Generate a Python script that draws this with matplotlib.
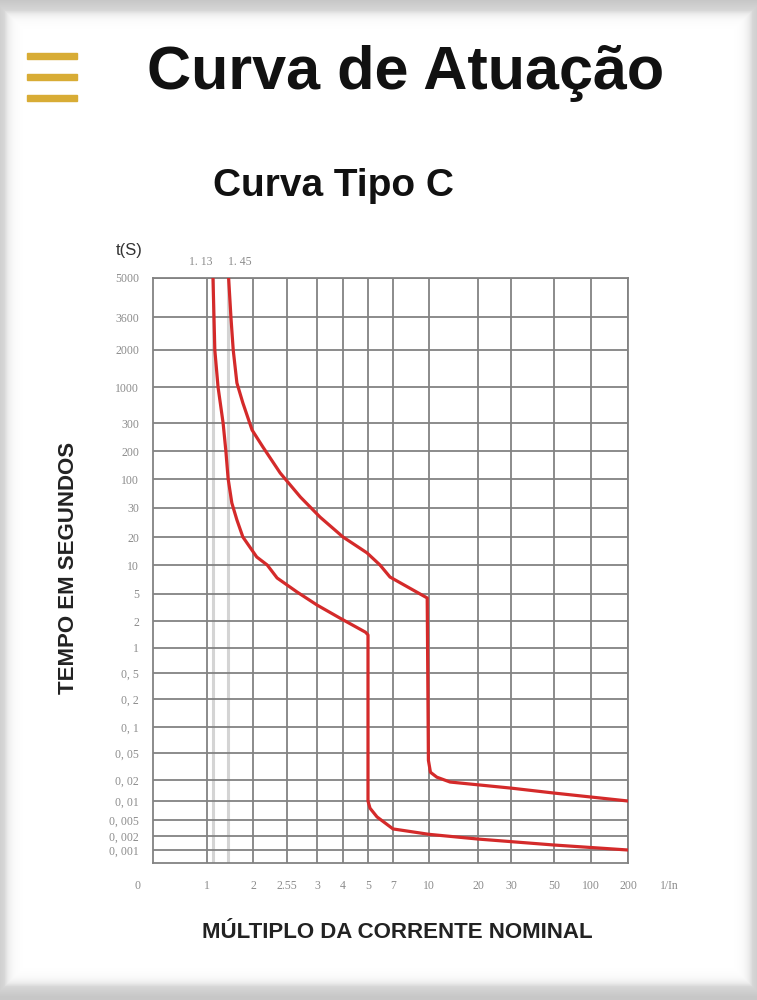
import numpy as np
import matplotlib
matplotlib.use('Agg')
import matplotlib.pyplot as plt
from matplotlib.transforms import blended_transform_factory

## chart values
x_ticks = [1, 2, 2.55, 3, 4, 5, 7, 10, 20, 30, 50, 100, 200]
x_labels = ['1', '2', '2.55', '3', '4', '5', '7', '10', '20', '30', '50', '100', '200']
y_ticks = [5000, 3600, 2000, 1000, 300, 200, 100, 30, 20, 10, 5, 2, 1,
           0.5, 0.2, 0.1, 0.05, 0.02, 0.01, 0.005, 0.002, 0.001]
y_labels = ['5000', '3600', '2000', '1000', '300', '200', '100', '30', '20', '10', '5', '2', '1',
            '0, 5', '0, 2', '0, 1', '0, 05', '0, 02', '0, 01', '0, 005', '0, 002', '0, 001']
marks = [1.13, 1.45]
mark_labels = ['1. 13', '1. 45']

# curva de nao-disparo (1.13 In)
curve_a_x = [1.13, 1.17, 1.24, 1.35, 1.41, 1.46, 1.54, 1.65, 1.78, 2.06, 2.23, 2.39, 2.70,
             3.0, 3.88, 4.9, 5.0, 5.0, 5.16, 5.72, 7.0, 10, 20, 50, 200]
curve_a_y = [5000, 2000, 1000, 300, 200, 100, 36.9, 25.4, 20, 12.2, 10, 7.33, 5.25,
             3.44, 2.21, 1.5, 1.4, 0.01, 0.0077, 0.0056, 0.003, 0.0022, 0.00172, 0.00128, 0.001]
# curva de disparo (1.45 In)
curve_b_x = [1.47, 1.52, 1.57, 1.65, 1.78, 1.98, 2.16, 2.44, 2.75, 3.12, 4.0, 4.96, 5.96,
             6.76, 9.85, 9.95, 10.3, 11.6, 14.3, 30, 50, 200]
curve_b_y = [5000, 3600, 2000, 1079, 586, 271, 212, 116, 47.4, 26.4, 20, 13.5, 10,
             7.5, 4.37, 0.039, 0.026, 0.022, 0.0187, 0.0153, 0.013, 0.01]

## layout: where each grid line sits on the printed sheet (pixels)
x_grid_px = [153, 207, 253, 287, 317, 343, 368, 393, 429, 478, 511, 554, 591, 628]
y_grid_px = [278, 317, 350, 387, 423, 451, 479, 508, 537, 565, 594, 621, 648,
             673, 699, 727, 753, 780, 801, 820, 836, 850, 863]

x_anchor = np.array([0.0] + x_ticks)
x_px = np.array(x_grid_px, dtype=float)
y_anchor = np.log10(np.array(y_ticks + [0.0005]))[::-1]
y_px = -np.array(y_grid_px, dtype=float)[::-1]


def fwd_x(v):
    return np.interp(v, x_anchor, x_px)


def inv_x(p):
    return np.interp(p, x_px, x_anchor)


def fwd_y(v):
    v = np.clip(np.asarray(v, dtype=float), 1e-12, None)
    return np.interp(np.log10(v), y_anchor, y_px)


def inv_y(p):
    return 10 ** np.interp(p, y_px, y_anchor)


W, H = 757, 1000
fig = plt.figure(figsize=(W / 100, H / 100), dpi=100)

## screenshot frame: grey shadow around a white card
bg = fig.add_axes([0, 0, 1, 1], zorder=-10)
xx, yy = np.meshgrid(np.arange(W), np.arange(H))
d = np.minimum.reduce([xx - 4, W - 5 - xx, yy - 10, H - 14 - yy]).astype(float)
shade = np.where(d > 0, 1 - 0.16 * np.exp(-d / 5.0), 0.84 - 0.006 * np.clip(-d, 0, 10))
bg.imshow(shade, cmap='gray', vmin=0, vmax=1, aspect='auto', interpolation='bilinear')
bg.axis('off')

# hamburger icon
for yb in [56, 77, 98]:
    fig.patches.append(plt.Rectangle((27 / W, 1 - (yb + 3) / H), 50 / W, 6 / H,
                                     transform=fig.transFigure, color='#d8ac35', zorder=5))

fig.text(406 / W, 1 - 73 / H, 'Curva de Atuação', family='Liberation Sans', weight='bold',
         fontsize=44, ha='center', va='center', color='#111111')
fig.text(333 / W, 1 - 186 / H, 'Curva Tipo C', family='Liberation Sans', weight='bold',
         fontsize=28, ha='center', va='center', color='#111111')
fig.text(129 / W, 1 - 250 / H, 't(S)', family='Liberation Sans', fontsize=12,
         ha='center', va='center', color='#333333')
fig.text(68 / W, 1 - 568 / H, 'TEMPO EM SEGUNDOS', family='Liberation Sans', weight='bold',
         fontsize=16, rotation=90, ha='center', va='center', color='#222222')
fig.text(397 / W, 1 - 933 / H, 'MÚLTIPLO DA CORRENTE NOMINAL', family='Liberation Sans',
         weight='bold', fontsize=16, ha='center', va='center', color='#222222')

ax = fig.add_axes([153 / W, 1 - 863 / H, 475 / W, 585 / H])
ax.set_facecolor('white')
ax.set_xscale('function', functions=(fwd_x, inv_x))
ax.set_yscale('function', functions=(fwd_y, inv_y))
ax.set_xlim(0, 200)
ax.set_ylim(0.0005, 5000)

grey = '#828282'
for xv in x_ticks:
    ax.axvline(xv, color=grey, lw=1.3, zorder=1)
for yv in y_ticks:
    ax.axhline(yv, color=grey, lw=1.3, zorder=1)
for xv in marks:
    ax.axvline(xv, color='#d4d4d4', lw=2.2, zorder=0.5)
for s in ax.spines.values():
    s.set_color(grey)
    s.set_linewidth(1.3)

ax.plot(curve_a_x, curve_a_y, color='#d42a2a', lw=2.3, zorder=3, solid_joinstyle='round')
ax.plot(curve_b_x, curve_b_y, color='#d42a2a', lw=2.3, zorder=3, solid_joinstyle='round')

tick_font = dict(family='Liberation Serif', size=8.5)
ax.set_xticks(x_ticks)
ax.set_xticklabels(x_labels, color='#8c8c8c', **tick_font)
ax.set_yticks(y_ticks)
ax.set_yticklabels(y_labels, color='#8c8c8c', **tick_font)
ax.minorticks_off()
ax.tick_params(axis='x', length=0, pad=12)
ax.tick_params(axis='y', length=0, pad=10)

ax.text(-0.032, -0.039, '0', transform=ax.transAxes, ha='center', va='center',
        color='#8c8c8c', **tick_font)
ax.text(1.088, -0.039, '1/In', transform=ax.transAxes, ha='center', va='center',
        color='#8c8c8c', **tick_font)
trans = blended_transform_factory(ax.transData, ax.transAxes)
ax.text(marks[0], 1.028, mark_labels[0], transform=trans, ha='right', va='center',
        color='#8c8c8c', **tick_font)
ax.text(marks[1], 1.028, mark_labels[1], transform=trans, ha='left', va='center',
        color='#8c8c8c', **tick_font)

fig.savefig('out.png', dpi=100)
